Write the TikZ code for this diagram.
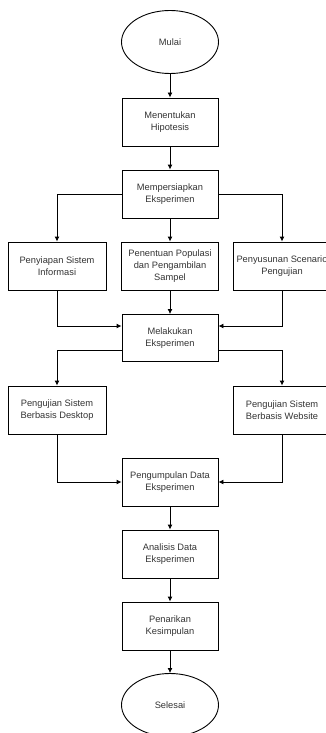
\documentclass[tikz,border=0pt]{standalone}
\usepackage{fontspec}
\setmainfont{Liberation Sans}
\usetikzlibrary{shapes.geometric,arrows.meta}
\definecolor{TextGray}{HTML}{333333}

\begin{document}
\begin{tikzpicture}[x=1pt,y=-1pt,
        box/.style={draw,line width=0.9pt,minimum width=96pt,minimum height=48pt,align=center,
          inner sep=1pt,text=TextGray,font=\fontsize{9.3}{12}\selectfont},
        ends/.style={box,ellipse,minimum width=97pt,minimum height=63pt},
        arr/.style={line width=0.9pt,-{Latex[length=5pt,width=5pt]}}]
        \useasboundingbox (0,0) rectangle (326,733);
        \node[ends] (mulai) at (170,42) {Mulai};
        \node[box] (hipotesis) at (170,122) {Menentukan\\Hipotesis};
        \node[box] (persiapan) at (170,194) {Mempersiapkan\\Eksperimen};
        \node[box,minimum width=98pt] (sistem) at (57,266) {Penyiapan Sistem\\Informasi};
        \node[box,minimum width=97pt] (populasi) at (170,266) {Penentuan Populasi\\dan Pengambilan\\Sampel};
        \node[box,minimum width=98pt] (skenario) at (282,266) {Penyusunan Scenario\\Pengujian};
        \node[box,minimum height=47pt] (melakukan) at (170,338) {Melakukan\\Eksperimen};
        \node[box,minimum width=98pt] (desktop) at (57,410) {Pengujian Sistem\\Berbasis Desktop};
        \node[box,minimum width=98pt] (website) at (282,410) {Pengujian Sistem\\Berbasis Website};
        \node[box] (pengumpulan) at (170,482) {Pengumpulan Data\\Eksperimen};
        \node[box] (analisis) at (170,554) {Analisis Data\\Eksperimen};
        \node[box] (penarikan) at (170,626) {Penarikan\\Kesimpulan};
        \node[ends] (selesai) at (170,705) {Selesai};
        \draw[arr] (mulai) -- (hipotesis);
        \draw[arr] (hipotesis) -- (persiapan);
        \draw[arr] (persiapan.west) -| (sistem.north);
        \draw[arr] (persiapan) -- (populasi);
        \draw[arr] (persiapan.east) -| (skenario.north);
        \draw[arr] (sistem.south) |- ([yshift=12pt]melakukan.west);
        \draw[arr] (populasi) -- (melakukan);
        \draw[arr] (skenario.south) |- ([yshift=12pt]melakukan.east);
        \draw[arr] ([yshift=-12pt]melakukan.west) -| (desktop.north);
        \draw[arr] ([yshift=-12pt]melakukan.east) -| (website.north);
        \draw[arr] (desktop.south) |- (pengumpulan.west);
        \draw[arr] (website.south) |- (pengumpulan.east);
        \draw[arr] (pengumpulan) -- (analisis);
        \draw[arr] (analisis) -- (penarikan);
        \draw[arr] (penarikan) -- (selesai);
      \end{tikzpicture}
\end{document}
